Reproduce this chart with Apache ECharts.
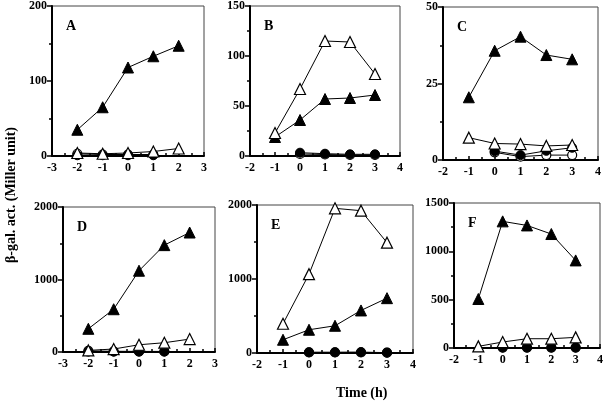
<!DOCTYPE html>
<html><head><meta charset="utf-8">
<script src="https://cdn.jsdelivr.net/npm/echarts@6/dist/echarts.min.js"></script>
<style>html,body{margin:0;padding:0;background:#fff}#c{width:608px;height:401px}</style>
</head><body><div id="c"></div>
<script>
// ---- data ----
const panelLetters = ['A','B','C','D','E','F'];
// Panel A
const A_x = [-2,-1,0,1,2];
const A_filledTri = [35,65,118,133,147];
const A_openTri = [4,3,4,6,10];
const A_xc = [-2,-1,0,1];
const A_filledCircle = [1,1,1,1];
const A_openCircle = [3,2,2,2];
// Panel B
const B_x = [-1,0,1,2,3];
const B_filledTri = [19,36,57,58,61];
const B_openTri = [23,67,115,114,82];
const B_xc = [0,1,2,3];
const B_filledCircle = [3.3,2.3,1.7,1.7];
const B_openCircle = [2,1.5,1,1];
// Panel C
const C_x = [-1,0,1,2,3];
const C_filledTri = [20.5,35.7,40.3,34.3,32.9];
const C_openTri = [7.3,5.4,5.2,4.6,4.9];
const C_xc = [0,1,2,3];
const C_filledCircle = [2.9,1.6,3.0,4.0];
const C_openCircle = [2.5,1.1,1.6,1.6];
// Panel D
const D_x = [-2,-1,0,1,2];
const D_filledTri = [320,590,1121,1474,1648];
const D_openTri = [22,41,100,128,178];
const D_xc = [-2,-1,0,1];
const D_filledCircle = [5,5,5,5];
const D_openCircle = [15,10,8,8];
// Panel E
const E_x = [-1,0,1,2,3];
const E_filledTri = [179,314,368,575,741];
const E_openTri = [395,1065,1955,1923,1491];
const E_xc = [0,1,2,3];
const E_filledCircle = [10,10,12,5];
const E_openCircle = [8,8,8,5];
// Panel F
const F_x = [-1,0,1,2,3];
const F_filledTri = [507,1310,1268,1179,906];
const F_openTri = [17,62,96,96,110];
const F_xc = [0,1,2,3];
const F_filledCircle = [5,5,5,5];
const F_openCircle = [4,4,4,4];

const xMins = [-3,-2,-2,-3,-2,-2];
const xMaxs = [3,4,4,3,4,4];
const yMaxs = [200,150,50,2000,2000,1500];
const yIntervals = [100,50,25,1000,1000,500];

const panels = [
  [A_x,A_filledTri,A_openTri,A_xc,A_filledCircle,A_openCircle],
  [B_x,B_filledTri,B_openTri,B_xc,B_filledCircle,B_openCircle],
  [C_x,C_filledTri,C_openTri,C_xc,C_filledCircle,C_openCircle],
  [D_x,D_filledTri,D_openTri,D_xc,D_filledCircle,D_openCircle],
  [E_x,E_filledTri,E_openTri,E_xc,E_filledCircle,E_openCircle],
  [F_x,F_filledTri,F_openTri,F_xc,F_filledCircle,F_openCircle]
];

// ---- layout ----
const grids = [
  {left:52, top:6, width:152, height:150},
  {left:250, top:6, width:150, height:150},
  {left:443, top:7, width:155, height:153},
  {left:63, top:207, width:152, height:145},
  {left:257, top:205, width:156, height:148},
  {left:454, top:203, width:146, height:145}
];
const FONT = 'Liberation Serif';
const lblStyle = {fontFamily:FONT, fontWeight:'bold', fontSize:12, color:'#000'};

const zip = (xs, ys) => xs.map((x,i)=>[x,ys[i]]);

const option = {
  animation:false,
  backgroundColor:'#fff',
  grid: grids.map(g=>Object.assign({show:true, borderColor:'#444', borderWidth:1, backgroundColor:'transparent'}, g)),
  xAxis: grids.map((g,i)=>({
    type:'value', gridIndex:i, min:xMins[i], max:xMaxs[i], interval:1,
    axisLine:{show:true, onZero:false, lineStyle:{color:'#000', width:2}},
    axisTick:{show:true, inside:true, length:4, lineStyle:{color:'#000', width:1.5}},
    minorTick:{show:true, splitNumber:2, length:3, lineStyle:{color:'#000', width:1.5}},
    splitLine:{show:false},
    axisLabel:Object.assign({margin:6, formatter:v=>String(v)}, lblStyle)
  })),
  yAxis: grids.map((g,i)=>({
    type:'value', gridIndex:i, min:0, max:yMaxs[i], interval:yIntervals[i],
    axisLine:{show:true, onZero:false, lineStyle:{color:'#000', width:2}},
    axisTick:{show:true, length:5, lineStyle:{color:'#000', width:1.5}},
    minorTick:{show:true, splitNumber:2, length:3, lineStyle:{color:'#000', width:1.5}},
    splitLine:{show:false},
    axisLabel:Object.assign({margin:5, formatter:v=>String(v)}, lblStyle)
  })),
  title: panelLetters.map((t,i)=>({
    text:t, left:grids[i].left+9, top:grids[i].top+8,
    textStyle:{fontFamily:FONT, fontWeight:'bold', fontSize:14, color:'#000'}
  })).concat([
    {text:'Time (h)', left:331, top:381, textStyle:{fontFamily:FONT, fontWeight:'bold', fontSize:14, color:'#000'}}
  ]),
  graphic:[{
    type:'text', left:4, top:127, rotation:Math.PI/2,
    style:{text:'β-gal. act. (Miller unit)', font:'bold 14px "Liberation Serif"', fill:'#000'}
  }],
  series: []
};

const lineStyle = {color:'#000', width:1};
panels.forEach((p,i)=>{
  const [xs, ft, ot, xc, fc, oc] = p;
  option.series.push(
    {type:'line', xAxisIndex:i, yAxisIndex:i, data:zip(xc,oc), symbol:'circle', symbolSize:9,
     lineStyle, itemStyle:{color:'#fff', borderColor:'#000', borderWidth:1.2}, z:2},
    {type:'line', xAxisIndex:i, yAxisIndex:i, data:zip(xc,fc), symbol:'circle', symbolSize:9,
     lineStyle, itemStyle:{color:'#000', borderColor:'#000', borderWidth:1}, z:3},
    {type:'line', xAxisIndex:i, yAxisIndex:i, data:zip(xs,ft), symbol:'triangle', symbolSize:11,
     lineStyle, itemStyle:{color:'#000', borderColor:'#000', borderWidth:1}, z:4},
    {type:'line', xAxisIndex:i, yAxisIndex:i, data:zip(xs,ot), symbol:'triangle', symbolSize:11,
     lineStyle, itemStyle:{color:'#fff', borderColor:'#000', borderWidth:1.2}, z:5}
  );
});

const chart = echarts.init(document.getElementById('c'), null, {renderer:'canvas'});
chart.setOption(option);
</script>
</body></html>
